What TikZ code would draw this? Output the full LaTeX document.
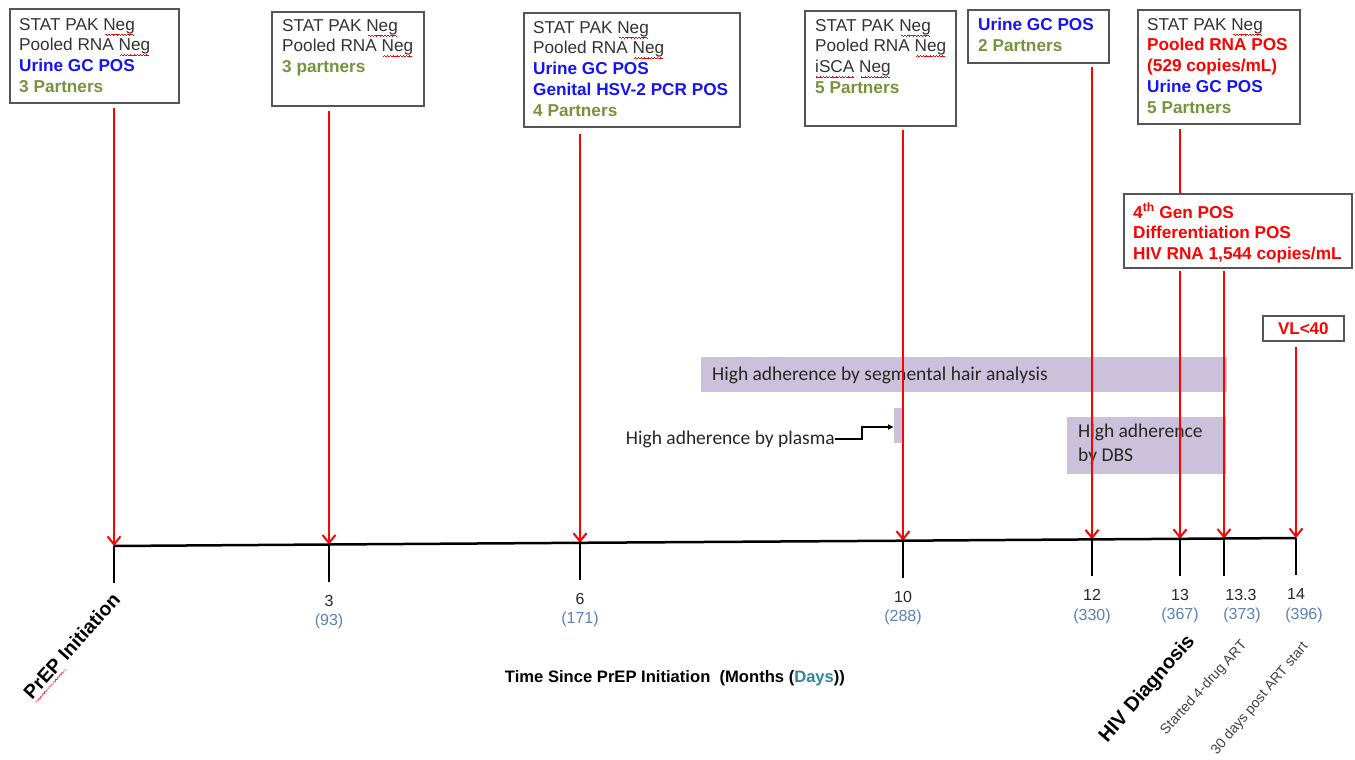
\documentclass[tikz,border=0pt]{standalone}
\usepackage{fontspec}
\setmainfont{Liberation Sans}
\newfontfamily\calib{Carlito}
\usetikzlibrary{arrows.meta}
\definecolor{txtgray}{HTML}{333333}
\definecolor{boxgray}{HTML}{555555}
\definecolor{posblue}{HTML}{1414F5}
\definecolor{partgreen}{HTML}{77933C}
\definecolor{daysblue}{HTML}{5A80B8}
\definecolor{daysteal}{HTML}{31859C}
\definecolor{barpurple}{HTML}{CCC1DA}
\newsavebox\spellbox
\newcommand\wavepiece{\rule[0pt]{0.8pt}{0.6pt}\rule[0.6pt]{0.8pt}{0.6pt}\rule[0pt]{0.8pt}{0.6pt}\rule[-0.6pt]{0.8pt}{0.6pt}}
\newcommand\spell[1]{\sbox\spellbox{#1}\leavevmode\rlap{\raisebox{-4.5pt}[0pt][0pt]{\textcolor{red}{\hbox to \wd\spellbox{\cleaders\hbox{\wavepiece}\hfill}}}}\usebox\spellbox}
\newcommand\bl[1]{\textcolor{posblue}{\bfseries #1}}
\newcommand\gr[1]{\textcolor{partgreen}{\bfseries #1}}
\newcommand\rd[1]{\textcolor{red}{\bfseries #1}}
\tikzset{
  evbox/.style={draw=boxgray, line width=1.6pt, fill=white, inner sep=0pt, anchor=north west},
  boxtext/.style={anchor=north west, align=left, inner sep=0pt, font=\fontsize{17.2}{20.7}\selectfont, text=txtgray},
  evt/.style={draw=red, line width=2pt, -{Straight Barb[length=8pt,width=13pt]}},
  redline/.style={draw=red, line width=2pt},
  axisline/.style={line width=2.5pt, black},
  tickline/.style={line width=2.5pt, black},
  bar/.style={fill=barpurple, draw=none, inner sep=0pt, anchor=north west},
  bartext/.style={font=\calib\fontsize{19.5}{25}\selectfont, text=black!85, align=left, inner sep=0pt},
  num/.style={font=\fontsize{16}{18}\selectfont, text=black!85, inner sep=0pt},
  days/.style={font=\fontsize{16}{18}\selectfont, text=daysblue, inner sep=0pt},
  conn/.style={line width=1.2pt, black, -{Latex[length=6pt,width=6pt]}},
}
\begin{document}
\begin{tikzpicture}[x=1pt,y=-1pt]
\useasboundingbox (0,0) rectangle (1355,760);
% axis coordinates
\coordinate (t0) at (114,546);
\coordinate (t1) at (329,544.5);
\coordinate (t2) at (580,542.8);
\coordinate (t3) at (903,540.7);
\coordinate (t4) at (1092,539.4);
\coordinate (t5) at (1180,538.8);
\coordinate (t6) at (1224,538.5);
\coordinate (t7) at (1296,538);
% bars
\node[bar, minimum width=526pt, minimum height=35pt] (hair) at (701,357) {};
\node[bartext, anchor=west] (hairt) at (712,375) {High adherence by segmental hair analysis};
\node[bar, minimum width=9pt, minimum height=35pt] (plb) at (894,408) {};
\node[bartext, anchor=east] (pl) at (835,439) {High adherence by plasma};
\coordinate (elb) at (862,437);
\draw[conn] (pl.east) -- (pl.east -| elb) -- (elb |- 0,427) -- (plb.west |- 0,427);
\node[bar, minimum width=159pt, minimum height=57pt] (dbs) at (1067,417) {};
\node[bartext, anchor=north west] (dbst) at (1078,424) {High adherence\\[-1pt]by DBS};
% boxes
\node[evbox, minimum width=169pt, minimum height=94pt] (b1) at (9,8) {};
\node[boxtext] at ([xshift=10pt,yshift=-10pt]b1.north west) {STAT PAK \spell{Neg}\\Pooled RNA \spell{Neg}\\\bl{Urine GC POS}\\\gr{3 Partners}};
\node[evbox, minimum width=152pt, minimum height=94pt] (b2) at (271,11) {};
\node[boxtext] at ([xshift=11pt,yshift=-8pt]b2.north west) {STAT PAK \spell{Neg}\\Pooled RNA \spell{Neg}\\\gr{3 partners}};
\node[evbox, minimum width=216pt, minimum height=114pt] (b3) at (523,12) {};
\node[boxtext] at ([xshift=10pt,yshift=-9pt]b3.north west) {STAT PAK \spell{Neg}\\Pooled RNA \spell{Neg}\\\bl{Urine GC POS}\\\bl{Genital HSV-2 PCR POS}\\\gr{4 Partners}};
\node[evbox, minimum width=151pt, minimum height=115pt] (b4) at (804,10) {};
\node[boxtext] at ([xshift=11pt,yshift=-9pt]b4.north west) {STAT PAK \spell{Neg}\\Pooled RNA \spell{Neg}\\\spell{iSCA} \spell{Neg}\\\gr{5 Partners}};
\node[evbox, minimum width=141pt, minimum height=53pt] (b5) at (967,9) {};
\node[boxtext] at ([xshift=11pt,yshift=-9pt]b5.north west) {\bl{Urine GC POS}\\\gr{2 Partners}};
\node[evbox, minimum width=162pt, minimum height=114pt] (b6) at (1137,9) {};
\node[boxtext] at ([xshift=10pt,yshift=-9pt]b6.north west) {STAT PAK \spell{Neg}\\\rd{Pooled RNA POS}\\\rd{(529 copies/mL)}\\\bl{Urine GC POS}\\\gr{5 Partners}};
\node[evbox, minimum width=228pt, minimum height=74pt] (b7) at (1123,193) {};
\node[boxtext] at ([xshift=10pt,yshift=-10pt]b7.north west) {\rd{4\textsuperscript{th} Gen POS}\\\rd{Differentiation POS}\\\rd{HIV RNA 1,544 copies/mL}};
\node[evbox, minimum width=81pt, minimum height=25pt, font=\bfseries\fontsize{17}{20}\selectfont, text=red] (vl) at (1262,315) {VL<40};
% event arrows
\coordinate (s1) at ([yshift=-4pt]b1.south);
\coordinate (s2) at ([yshift=-4pt]b2.south);
\coordinate (s3) at ([yshift=-6pt]b3.south);
\coordinate (s4) at ([yshift=-3pt]b4.south);
\coordinate (s5) at ([yshift=-3pt]b5.south);
\coordinate (s6) at ([yshift=-4pt]b6.south);
\coordinate (s7) at ([yshift=-2pt]b7.south);
\coordinate (s8) at ([yshift=-5pt]vl.south);
\draw[evt] (s1 -| t0) -- (t0);
\draw[evt] (s2 -| t1) -- (t1);
\draw[evt] (s3 -| t2) -- (t2);
\draw[evt] (s4 -| t3) -- (t3);
\draw[evt] (s5 -| t4) -- (t4);
\draw[redline] (s6 -| t5) -- (b7.north -| t5);
\draw[evt] (s7 -| t5) -- (t5);
\draw[evt] (s7 -| t6) -- (t6);
\draw[evt] (s8 -| t7) -- (t7);
% axis and ticks
\draw[axisline] (t0) -- (t1) -- (t2) -- (t3) -- (t4) -- (t5) -- (t6) -- (t7);
\foreach \t in {t0,t1,t2,t3,t4,t5,t6,t7}{\draw[tickline] (\t) -- ++(0,37);}
% tick labels
\node[num] (n1) at ([yshift=-56pt]t1) {3};
\node[days] (d1) at ([yshift=-77pt]t1) {(93)};
\node[num] (n2) at ([yshift=-56pt]t2) {6};
\node[days] (d2) at ([yshift=-77pt]t2) {(171)};
\node[num] (n3) at ([yshift=-56pt]t3) {10};
\node[days] (d3) at ([yshift=-77pt]t3) {(288)};
\node[num] (n4) at ([yshift=-56pt]t4) {12};
\node[days] (d4) at ([yshift=-77pt]t4) {(330)};
\node[num] (n5) at ([yshift=-56pt]t5) {13};
\node[days] (d5) at ([yshift=-77pt]t5) {(367)};
\node[num] (n6) at ([xshift=17pt,yshift=-56pt]t6) {13.3};
\node[days] (d6) at ([xshift=18pt,yshift=-77pt]t6) {(373)};
\node[num] (n7) at ([yshift=-56pt]t7) {14};
\node[days] (d7) at ([xshift=8pt,yshift=-77pt]t7) {(396)};
% rotated labels
\node[rotate=48, font=\bfseries\fontsize{19.5}{22}\selectfont, inner sep=0pt] (prep) at (71.5,646) {\spell{PrEP} Initiation};
\node[rotate=49, font=\bfseries\fontsize{20}{22}\selectfont, inner sep=0pt] (hiv) at (1147.5,689) {HIV Diagnosis};
\node[rotate=48, font=\fontsize{14}{16}\selectfont, text=black!75, inner sep=0pt] (art) at (1204,688) {Started 4-drug ART};
\node[rotate=50, font=\fontsize{14}{16}\selectfont, text=black!75, inner sep=0pt] (post) at (1260,699) {30 days post ART start};
% axis title
\node[font=\bfseries\fontsize{16.6}{18}\selectfont, inner sep=0pt] (title) at (675,678) {Time Since PrEP Initiation\ \ (Months (\textcolor{daysteal}{Days}))};
\end{tikzpicture}
\end{document}
